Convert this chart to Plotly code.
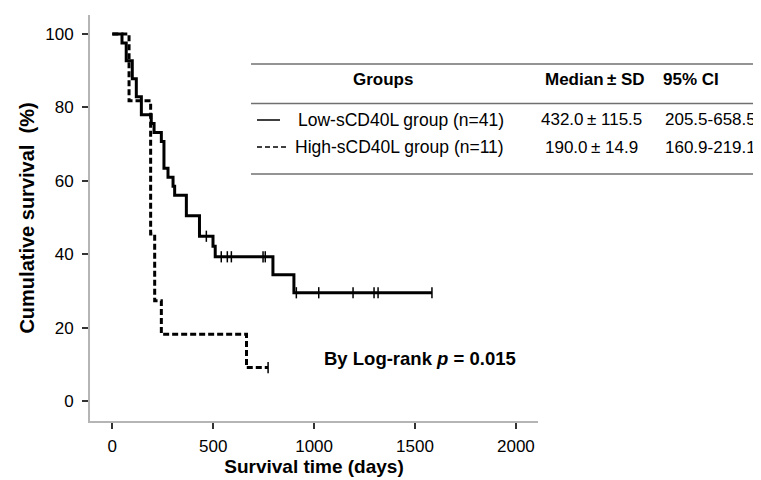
import plotly.graph_objects as go

# ---------------- data ----------------
low_time = [0, 48, 69, 99, 119, 144, 193, 207, 243, 256, 276, 301, 309, 367, 432, 499, 510, 796, 900, 1584]
low_surv = [100, 97.6, 92.7, 87.8, 82.9, 78.0, 75.6, 73.2, 70.7, 63.4, 61.0, 58.5, 56.1, 50.5, 44.9, 42.2, 39.3, 34.4, 29.5, 29.5]
low_cens_time = [466, 540, 570, 590, 747, 758, 912, 1023, 1193, 1297, 1317, 1584]
low_cens_surv = [44.9, 39.3, 39.3, 39.3, 39.3, 39.3, 29.5, 29.5, 29.5, 29.5, 29.5, 29.5]

high_time = [0, 83, 190, 210, 243, 665, 772]
high_surv = [100, 81.8, 45.5, 27.3, 18.2, 9.1, 9.1]
high_cens_time = [772]
high_cens_surv = [9.1]

x_ticks = [0, 500, 1000, 1500, 2000]
y_ticks = [0, 20, 40, 60, 80, 100]

table_header = ["Groups", "Median\u2009\u00b1 SD", "95% CI"]
table_groups = ["Low-sCD40L group (n=41)", "High-sCD40L group (n=11)"]
table_median = ["432.0\u2009\u00b1 115.5", "190.0\u2009\u00b1 14.9"]
table_ci = ["205.5-658.5", "160.9-219.1"]
logrank_text = "<b>By Log-rank <i>p</i> = 0.015</b>"

# ---------------- layout geometry ----------------
W, H = 761, 480
L, R, T, B = 82, 530, 7, 413
FONT = "Liberation Sans, Arial, sans-serif"


def px(xp):
    return (xp - L) / (R - L)


def py(yp):
    return (B - yp) / (B - T)


fig = go.Figure()

fig.add_trace(go.Scatter(x=low_time, y=low_surv, mode="lines", line_shape="hv",
                         line=dict(color="black", width=3), showlegend=False))
fig.add_trace(go.Scatter(x=high_time, y=high_surv, mode="lines", line_shape="hv",
                         line=dict(color="black", width=3, dash="6px,3px"), showlegend=False))
fig.add_trace(go.Scatter(x=low_cens_time, y=low_cens_surv, mode="markers",
                         marker=dict(symbol="line-ns", size=8, line=dict(color="black", width=1.5)),
                         showlegend=False))
fig.add_trace(go.Scatter(x=high_cens_time, y=high_cens_surv, mode="markers",
                         marker=dict(symbol="line-ns", size=8, line=dict(color="black", width=1.5)),
                         showlegend=False))

# ---------------- table (rules, legend samples, texts) ----------------
shapes = []
for yline in [56, 95.5, 166]:
    shapes.append(dict(type="line", xref="paper", yref="paper",
                       x0=px(243), x1=px(761), y0=py(yline), y1=py(yline),
                       line=dict(color="#707070", width=1.5)))
shapes.append(dict(type="line", xref="paper", yref="paper", x0=px(249), x1=px(272),
                   y0=py(112), y1=py(112), line=dict(color="black", width=1.5)))
shapes.append(dict(type="line", xref="paper", yref="paper", x0=px(249), x1=px(278),
                   y0=py(139), y1=py(139), line=dict(color="black", width=1.5, dash="5px,3px")))

annotations = []
hdr_x = [375, 587, 683]
for txt, xc in zip(table_header, hdr_x):
    annotations.append(dict(text="<b>" + txt + "</b>", x=px(xc), y=py(72), xref="paper", yref="paper",
                            xanchor="center", yanchor="middle", showarrow=False,
                            font=dict(family=FONT, size=17, color="black")))
row_y = [112, 139]
group_x = [288, 285]
for i in range(2):
    annotations.append(dict(text=table_groups[i], x=px(group_x[i]), y=py(row_y[i]), xref="paper", yref="paper",
                            xanchor="left", yanchor="middle", showarrow=False,
                            font=dict(family=FONT, size=17.5, color="black")))
    annotations.append(dict(text=table_median[i], x=px(583), y=py(row_y[i]), xref="paper", yref="paper",
                            xanchor="center", yanchor="middle", showarrow=False,
                            font=dict(family=FONT, size=17, color="black")))
    annotations.append(dict(text=table_ci[i], x=px(702), y=py(row_y[i]), xref="paper", yref="paper",
                            xanchor="center", yanchor="middle", showarrow=False,
                            font=dict(family=FONT, size=17, color="black")))

annotations.append(dict(text=logrank_text, x=px(314), y=py(350), xref="paper", yref="paper",
                        xanchor="left", yanchor="middle", showarrow=False,
                        font=dict(family=FONT, size=18.5, color="black")))

fig.update_layout(
    width=W, height=H,
    margin=dict(l=L, r=W - R, t=T, b=H - B),
    paper_bgcolor="white", plot_bgcolor="white",
    font=dict(family=FONT, size=17, color="black"),
    shapes=shapes, annotations=annotations,
    xaxis=dict(range=[-110.5, 2109.5], tickvals=x_ticks, ticktext=[str(v) for v in x_ticks],
               showgrid=False, zeroline=False, showline=True, linecolor="#b5b5b5", linewidth=2,
               ticks="outside", ticklen=6, tickwidth=1.5, tickcolor="#333",
               ticklabelstandoff=3,
               tickfont=dict(family=FONT, size=17, color="black"),
               title=dict(text="Survival time (days)", standoff=3,
                          font=dict(family=FONT, size=19, color="black", weight="bold"))),
    yaxis=dict(range=[-5.45, 105.2], tickvals=y_ticks, ticktext=[str(v) for v in y_ticks],
               showgrid=False, zeroline=False, showline=True, linecolor="#b5b5b5", linewidth=2,
               ticks="outside", ticklen=6, tickwidth=1.5, tickcolor="#333",
               ticklabelstandoff=5,
               tickfont=dict(family=FONT, size=17, color="black"),
               title=dict(text="Cumulative survival  (%)", standoff=5,
                          font=dict(family=FONT, size=20, color="black", weight="bold"))),
)

fig.write_html("out.html")
